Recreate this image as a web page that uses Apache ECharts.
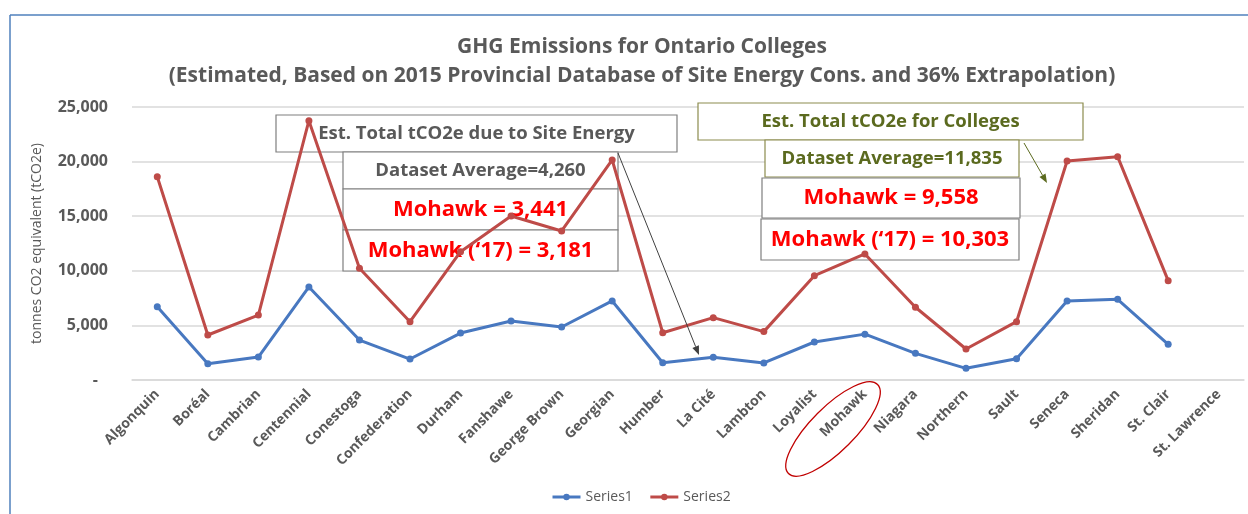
<!DOCTYPE html>
<html>
<head>
<meta charset="utf-8">
<script src="https://cdn.jsdelivr.net/npm/echarts@6/dist/echarts.min.js"></script>
<style>
  html, body { margin: 0; padding: 0; background: #fff; }
  #main { width: 1248px; height: 514px; }
</style>
</head>
<body>
<div id="main"></div>
<script>
var colleges = ['Algonquin', 'Boréal', 'Cambrian', 'Centennial', 'Conestoga', 'Confederation',
    'Durham', 'Fanshawe', 'George Brown', 'Georgian', 'Humber', 'La Cité', 'Lambton',
    'Loyalist', 'Mohawk', 'Niagara', 'Northern', 'Sault', 'Seneca', 'Sheridan',
    'St. Clair', 'St. Lawrence'];

// Series1: site energy tCO2e, Series2: total tCO2e
var series1 = [6700, 1480, 2100, 8520, 3660, 1920, 4300, 5400, 4850, 7240,
    1580, 2080, 1560, 3480, 4200, 2440, 1070, 1950, 7240, 7390, 3270, null];
var series2 = [18620, 4120, 5950, 23750, 10230, 5340, 11750, 15020, 13650, 20150,
    4330, 5710, 4430, 9550, 11540, 6660, 2840, 5340, 20060, 20450, 9100, null];

var yTicks = [0, 5000, 10000, 15000, 20000, 25000];

var FONT = "'Open Sans', sans-serif";
var GREY = '#595959';
var OLIVE = '#5B6A1F';

// annotation boxes: [x, y, w, h, text, colour, size, border]
var leftBoxes = [
    [276, 115, 401, 37, 'Est. Total tCO2e due to Site Energy', GREY, 18.5, '#7F7F7F'],
    [343, 152, 275, 37, 'Dataset Average=4,260', GREY, 18.5, '#7F7F7F'],
    [343, 189, 275, 41, 'Mohawk = 3,441', '#FF0000', 22, '#7F7F7F'],
    [343, 230, 275, 41, 'Mohawk (\u201817) = 3,181', '#FF0000', 22, '#7F7F7F']
];
var rightBoxes = [
    [698, 103, 385, 37, 'Est. Total tCO2e for Colleges', OLIVE, 18.5, '#8C8C4E'],
    [765, 140, 254, 37, 'Dataset Average=11,835', OLIVE, 18.5, '#8C8C4E'],
    [762, 178, 258, 40, 'Mohawk = 9,558', '#FF0000', 22, '#7F7F7F'],
    [761, 219, 258, 41, 'Mohawk (\u201817) = 10,303', '#FF0000', 22, '#7F7F7F']
];

function box(b) {
    return {
        type: 'group',
        children: [
            { type: 'rect', z: 1, shape: { x: b[0], y: b[1], width: b[2], height: b[3] },
              style: { fill: '#fff', stroke: b[7], lineWidth: 1.2 } },
            { type: 'text', z: 1, x: b[0] + b[2] / 2, y: b[1] + b[3] / 2,
              style: { text: b[4], fill: b[5], font: 'bold ' + b[6] + 'px ' + FONT,
                       align: 'center', verticalAlign: 'middle' } }
        ]
    };
}

function arrow(x1, y1, x2, y2, color) {
    var a = Math.atan2(y2 - y1, x2 - x1), L = 9, W = 3.5;
    var bx = x2 - L * Math.cos(a), by = y2 - L * Math.sin(a);
    return {
        type: 'group',
        children: [
            { type: 'line', z: 3, shape: { x1: x1, y1: y1, x2: bx, y2: by },
              style: { stroke: color, lineWidth: 1 } },
            { type: 'polygon', z: 3, shape: { points: [[x2, y2],
                [bx + W * Math.sin(a), by - W * Math.cos(a)],
                [bx - W * Math.sin(a), by + W * Math.cos(a)]] },
              style: { fill: color } }
        ]
    };
}

var graphics = [
    { type: 'line', shape: { x1: 10, y1: 15, x2: 1248, y2: 15 }, style: { stroke: '#4F81BD', lineWidth: 1.5 } },
    { type: 'line', shape: { x1: 10, y1: 15, x2: 10, y2: 514 }, style: { stroke: '#4F81BD', lineWidth: 1.5 } },
    arrow(618, 153, 699, 355, '#404040'),
    arrow(1024, 143, 1047, 183, OLIVE),
    { type: 'ellipse', z: 3, x: 833, y: 429, rotation: Math.PI / 4,
      shape: { cx: 0, cy: 0, rx: 63, ry: 22 },
      style: { fill: 'rgba(0,0,0,0)', stroke: '#C00000', lineWidth: 1.3 } }
];
leftBoxes.concat(rightBoxes).forEach(function (b) { graphics.push(box(b)); });

var myChart = echarts.init(document.getElementById('main'));
myChart.setOption({
    animation: false,
    textStyle: { fontFamily: FONT },
    title: {
        text: 'GHG Emissions for Ontario Colleges\n(Estimated, Based on 2015 Provincial Database of Site Energy Cons. and 36% Extrapolation)',
        left: 637,
        top: 28,
        textAlign: 'center',
        textStyle: { fontSize: 21, fontWeight: 'bold', color: GREY, lineHeight: 29, fontFamily: FONT }
    },
    legend: {
        bottom: 5,
        left: 546,
        itemWidth: 28,
        itemHeight: 8,
        itemGap: 16,
        lineStyle: { width: 3 },
        textStyle: { fontSize: 14, color: GREY, fontFamily: FONT }
    },
    grid: { left: 132, right: 4, top: 107, bottom: 134 },
    xAxis: {
        type: 'category',
        data: colleges,
        boundaryGap: true,
        axisLine: { lineStyle: { color: '#D9D9D9', width: 1.5 } },
        axisTick: { show: false },
        axisLabel: { rotate: 45, interval: 0, margin: 12, fontSize: 14, fontWeight: 'bold', color: GREY }
    },
    yAxis: {
        type: 'value',
        min: yTicks[0],
        max: yTicks[yTicks.length - 1],
        interval: 5000,
        name: 'tonnes CO2 equivalent (tCO2e)',
        nameLocation: 'middle',
        nameGap: 88,
        nameTextStyle: { fontSize: 14, color: GREY, fontFamily: FONT },
        axisLabel: {
            margin: 24,
            fontSize: 16,
            fontWeight: 'bold',
            color: GREY,
            formatter: function (v) {
                return v === 0 ? '{d|-}' : v.toLocaleString('en-US');
            },
            rich: { d: { padding: [0, 10, 0, 0], fontSize: 16, fontWeight: 'bold', color: GREY } }
        },
        splitLine: { lineStyle: { color: '#D9D9D9', width: 1.5 } }
    },
    series: [
        { name: 'Series1', type: 'line', z: 2, data: series1, symbol: 'circle', symbolSize: 7,
          lineStyle: { width: 3, color: '#4878C0' }, itemStyle: { color: '#4878C0' } },
        { name: 'Series2', type: 'line', z: 2, data: series2, symbol: 'circle', symbolSize: 7,
          lineStyle: { width: 3, color: '#BE4B48' }, itemStyle: { color: '#BE4B48' } }
    ],
    graphic: graphics
});
</script>
</body>
</html>
